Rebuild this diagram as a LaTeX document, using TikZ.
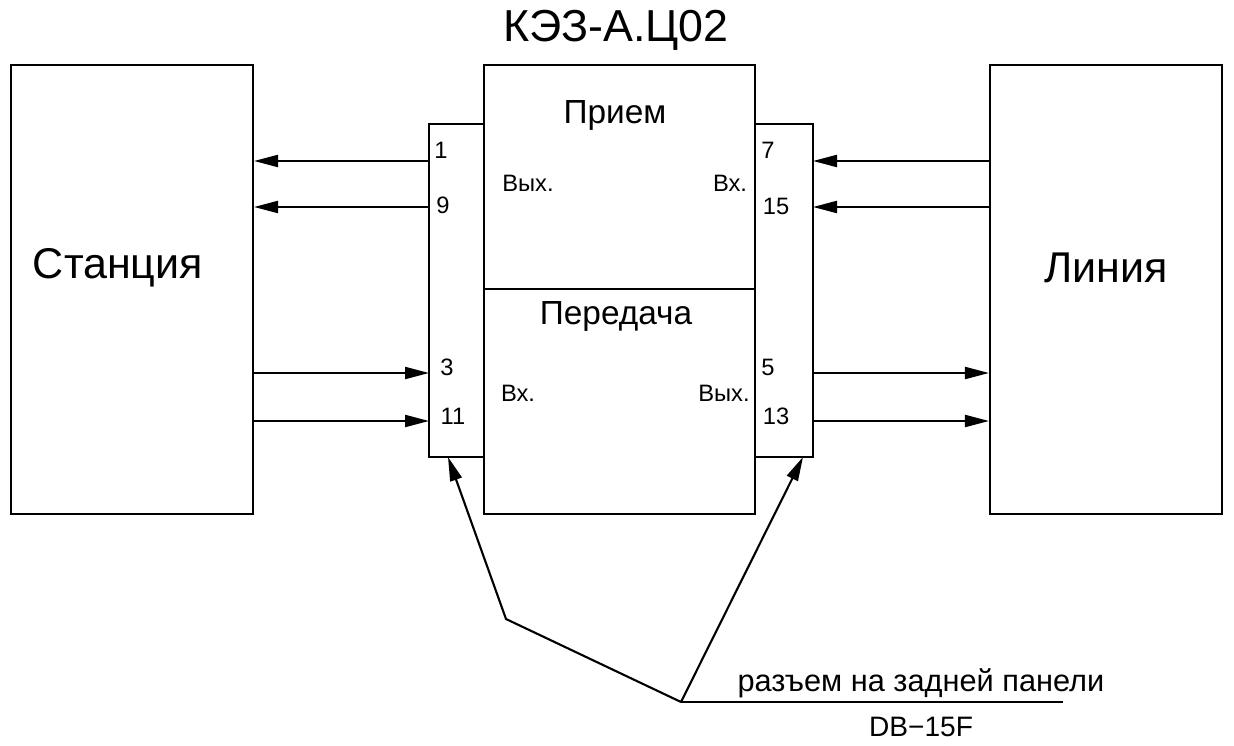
\documentclass[tikz,border=0pt]{standalone}
\usepackage{fontspec}
\setmainfont{Liberation Sans}
\usetikzlibrary{arrows.meta}
\tikzset{
  unit box/.style={
    rectangle, draw=black, line width=1.2pt, fill=white, inner sep=0pt
  },
  wire/.style={
    draw=black, line width=1.2pt
  },
  signal/.style={
    draw=black, line width=1.2pt, -{Triangle[length=4.8mm, width=2.4mm]}
  },
  title text/.style={font=\fontsize{25.5}{30}\selectfont, inner sep=0pt},
  big text/.style={font=\fontsize{24.5}{28}\selectfont, inner sep=0pt},
  part text/.style={font=\fontsize{19}{22}\selectfont, inner sep=0pt},
  io text/.style={font=\fontsize{13.5}{16}\selectfont, inner sep=0pt},
  pin text/.style={font=\fontsize{13.5}{16}\selectfont, inner sep=0pt},
  note text/.style={font=\fontsize{17.5}{20}\selectfont, inner sep=0pt},
  part no/.style={font=\fontsize{16}{19}\selectfont, inner sep=0pt}
}

\begin{document}
\begin{tikzpicture}[x=0.02cm, y=-0.02cm]
  \useasboundingbox (0,0) rectangle (1234,746);

% ------------------------------------------------
% Станция и Линия
% ------------------------------------------------
  \node[unit box, minimum width=4.84cm, minimum height=8.98cm] (st) at (132,289.5) {};
  \node[unit box, minimum width=4.64cm, minimum height=8.98cm] (ln) at (1106,289.5) {};
  \node[big text] at (118,268) {Станция};
  \node[big text] at (1106,268) {Линия};

% ------------------------------------------------
% КЭЗ-А.Ц02: разъемы и два блока
% ------------------------------------------------
  \node[unit box, minimum width=1.10cm, minimum height=6.66cm] (ls) at (456.5,290.5) {};
  \node[unit box, minimum width=1.16cm, minimum height=6.66cm] (rs) at (784,290.5) {};
  \node[unit box, minimum width=5.42cm, minimum height=4.48cm] (rx) at (619.5,177) {};
  \node[unit box, minimum width=5.42cm, minimum height=4.50cm] (tx) at (619.5,401.5) {};

  \node[title text] (kez) at (616,30) {КЭЗ-А.Ц02};
  \node[part text] at (615,115) {Прием};
  \node[part text] at (616,316) {Передача};
  \node[io text] at (528,183) {Вых.};
  \node[io text] at (730,183) {Вх.};
  \node[io text] at (518,393) {Вх.};
  \node[io text] at (724,393) {Вых.};

  \node[pin text] at (441,150) {1};
  \node[pin text] at (443,205) {9};
  \node[pin text] at (447,367) {3};
  \node[pin text] at (453,416) {11};
  \node[pin text] at (768,150) {7};
  \node[pin text] at (776,206) {15};
  \node[pin text] at (768,367) {5};
  \node[pin text] at (776,416) {13};

% ------------------------------------------------
% сигнальные линии
% ------------------------------------------------
  \coordinate (a1)  at (429,161);
  \coordinate (a9)  at (429,207);
  \coordinate (a3)  at (429,373);
  \coordinate (a11) at (429,421);
  \coordinate (b7)  at (813,161);
  \coordinate (b15) at (813,207);
  \coordinate (b5)  at (813,373);
  \coordinate (b13) at (813,421);

  \draw[signal] (a1)  -- (a1 -| st.east);
  \draw[signal] (a9)  -- (a9 -| st.east);
  \draw[signal] (a3 -| st.east)  -- (a3);
  \draw[signal] (a11 -| st.east) -- (a11);
  \draw[signal] (b7 -| ln.west)  -- (b7);
  \draw[signal] (b15 -| ln.west) -- (b15);
  \draw[signal] (b5)  -- (b5 -| ln.west);
  \draw[signal] (b13) -- (b13 -| ln.west);

% ------------------------------------------------
% выноска: разъем DB-15F
% ------------------------------------------------
  \coordinate (jn)   at (681,702);
  \coordinate (bend) at (506,619);
  \coordinate (lt)   at (448,457);
  \coordinate (rt)   at (803,457);
  \coordinate (shelf) at (1063,702);

  \draw[signal] (jn) -- (bend) -- (lt);
  \draw[signal] (jn) -- (rt);
  \draw[wire] (jn) -- (shelf);
  \node[note text] at (921,683) {разъем на задней панели};
  \node[part no] at (921,727) {DB−15F};
\end{tikzpicture}
\end{document}
